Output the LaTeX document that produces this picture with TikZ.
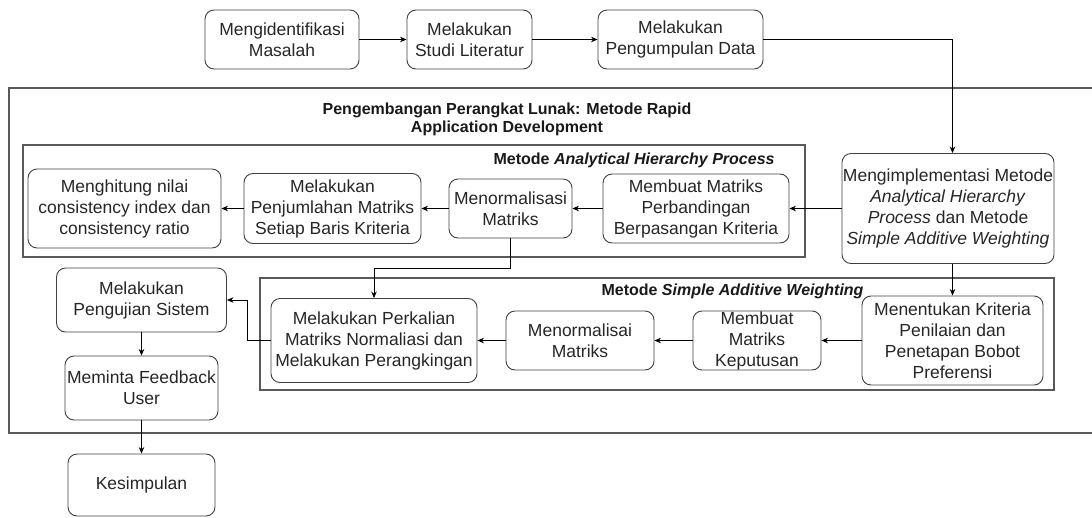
\documentclass[tikz,border=0pt]{standalone}
\usepackage{fontspec}
\setmainfont{Liberation Sans}
\usetikzlibrary{arrows.meta}

\begin{document}
\begin{tikzpicture}[x=1pt,y=-1pt,->,>={Stealth[length=6.5pt,width=5.5pt]},line width=0.8pt,
	proc node/.style={draw=black!75,line width=0.9pt,rounded corners=9pt,align=center,inner sep=0pt,text=black!85,font=\fontsize{17.5}{21}\selectfont},
	group box/.style={-,draw=black!65,line width=1.1pt},
	group title/.style={inner sep=0pt,text=black!90,font=\bfseries\fontsize{16}{18}\selectfont}]
	
	\useasboundingbox (0,0) rectangle (1092,517);
	
	% containers
	\draw[group box] (1092,88) -- (9,88) -- (9,433) -- (1092,433);
	\draw[group box] (23,145) rectangle (805,257);
	\draw[group box] (260,278) rectangle (1054,390);
	
	\node[group title,align=center] (t0) at (507,119) {Pengembangan Perangkat Lunak: Metode Rapid\\Application Development};
	\node[group title,anchor=east] (t1) at (775,160) {Metode \textit{Analytical Hierarchy Process}};
	\node[group title] (t2) at (732.5,291) {Metode \textit{Simple Additive Weighting}};
	
	% top row
	\node[proc node,minimum width=154pt,minimum height=59pt] (1) at (282,39.5) {Mengidentifikasi\\Masalah};
	\node[proc node,minimum width=125pt,minimum height=59pt] (2) at (469.5,39.5) {Melakukan\\Studi Literatur};
	\node[proc node,minimum width=165pt,minimum height=59pt] (3) at (680.5,39.5) {Melakukan\\Pengumpulan Data};
	
	% AHP
	\node[proc node,minimum width=212pt,minimum height=110pt] (4) at (948,208.5) {Mengimplementasi Metode\\\textit{Analytical Hierarchy}\\\textit{Process} dan Metode\\\textit{Simple Additive Weighting}};
	\node[proc node,minimum width=186pt,minimum height=69pt] (5) at (696,208.5) {Membuat Matriks\\Perbandingan\\Berpasangan Kriteria};
	\node[proc node,minimum width=123pt,minimum height=59pt] (6) at (510.5,208.5) {Menormalisasi\\Matriks};
	\node[proc node,minimum width=177pt,minimum height=70pt] (7) at (332.5,208.5) {Melakukan\\Penjumlahan Matriks\\Setiap Baris Kriteria};
	\node[proc node,minimum width=193pt,minimum height=79pt] (8) at (124.5,208.5) {Menghitung nilai\\consistency index dan\\consistency ratio};
	
	% SAW
	\node[proc node,minimum width=181pt,minimum height=89pt] (9) at (952.5,340.5) {Menentukan Kriteria\\Penilaian dan\\Penetapan Bobot\\Preferensi};
	\node[proc node,minimum width=128pt,minimum height=59pt] (10) at (757,340.5) {Membuat\\Matriks\\Keputusan};
	\node[proc node,minimum width=148pt,minimum height=59pt] (11) at (580,340.5) {Menormalisai\\Matriks};
	\node[proc node,minimum width=206pt,minimum height=84pt] (12) at (374,340.5) {Melakukan Perkalian\\Matriks Normaliasi dan\\Melakukan Perangkingan};
	
	% left column
	\node[proc node,minimum width=170pt,minimum height=64pt] (13) at (141.5,300) {Melakukan\\Pengujian Sistem};
	\node[proc node,minimum width=153pt,minimum height=64pt] (14) at (141.5,388) {Meminta Feedback\\User};
	\node[proc node,minimum width=147pt,minimum height=62pt] (15) at (141.5,485) {Kesimpulan};
	
	\path
	(1) edge (2)
	(2) edge (3)
	(4) edge (5)
	(5) edge (6)
	(6) edge (7)
	(7) edge (8)
	(9) edge (10)
	(10) edge (11)
	(11) edge (12)
	(13) edge (14)
	(14) edge (15);
	
	\draw (3.east) -| (4.north -| 9.north);
	\draw (4.south -| 9.north) -- (9.north);
	\draw (6.south) -- ++(0,30) -| (12.north);
	\draw (12.west) -- ++(-23,0) |- (13.east);
	
\end{tikzpicture}
\end{document}
